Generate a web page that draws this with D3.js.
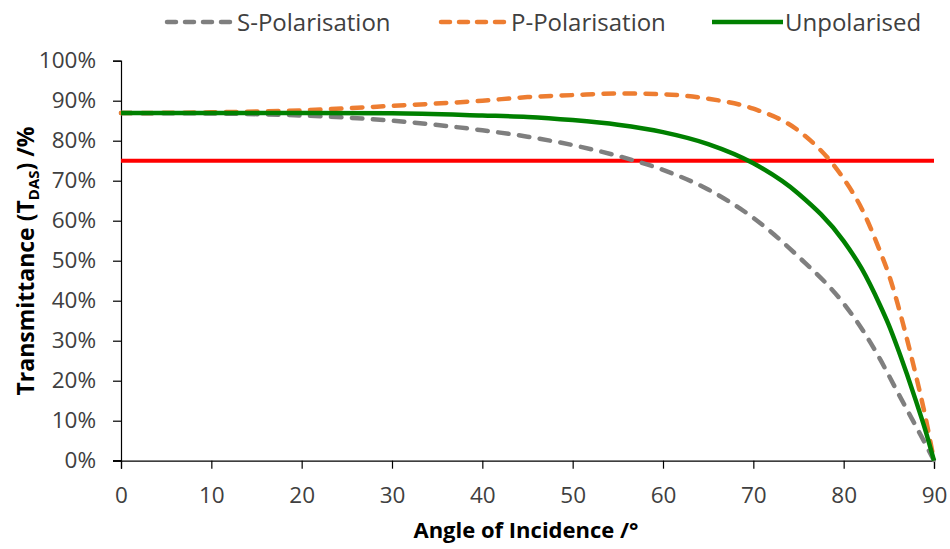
<!DOCTYPE html>
<html><head><meta charset="utf-8">
<script src="https://cdn.jsdelivr.net/npm/d3@7/dist/d3.min.js"></script>
<style>body{margin:0;background:#fff;}svg{display:block;}</style>
</head><body><svg id="c" width="950" height="549"></svg>
<script>
const angles = [0,10,20,30,40,45,50,55,60,65,70,75,80,82,84,85,86,87,88,89,90];
const sPol   = [86.9,86.8,86.3,85.0,82.6,81.0,78.9,76.2,72.7,67.8,60.7,51.0,39.3,33.0,25.5,21.3,17.0,12.8,8.6,4.4,0];
const pPol   = [86.9,87.1,87.6,88.7,90.0,90.9,91.4,91.8,91.6,90.5,88.0,82.5,70.5,63.0,52.5,46.5,39.0,30.5,21.3,11.5,0];
const unPol  = [86.9,86.95,86.95,86.85,86.3,85.95,85.15,84.0,82.15,79.15,74.35,66.75,54.9,48.0,39.0,33.9,28.0,21.65,14.95,7.95,0];
const threshold = 75;
const seriesNames = ["S-Polarisation","P-Polarisation","Unpolarised"];
const xTicks = [0,10,20,30,40,50,60,70,80,90];
const yTicks = [0,10,20,30,40,50,60,70,80,90,100];

const svg = d3.select("#c");
const L=121, R=934, T=60.7, B=460.7;
const x = d3.scaleLinear().domain([0,90]).range([L,R]);
const y = d3.scaleLinear().domain([0,100]).range([B,T]);
const font = "'Open Sans', sans-serif";
const txt = "#404040";

// axes
const yAx = svg.append("g").attr("transform",`translate(${L},0)`)
  .call(d3.axisLeft(y).tickValues(yTicks).tickFormat(d=>d+"%").tickSize(8).tickPadding(17));
const xAx = svg.append("g").attr("transform",`translate(0,${B})`)
  .call(d3.axisBottom(x).tickValues(xTicks).tickSize(8).tickPadding(18));
[yAx,xAx].forEach(a=>{
  a.select(".domain").attr("stroke","#000").attr("stroke-width",1.2);
  a.selectAll(".tick line").attr("stroke","#000").attr("stroke-width",1.2);
  a.selectAll("text").attr("font-family",font).attr("font-size",22.5).attr("fill",txt);
});
svg.append("line").attr("x1",L-8).attr("x2",L).attr("y1",B).attr("y2",B).attr("stroke","#000").attr("stroke-width",1.2);

// threshold line
svg.append("line").attr("x1",x(0)).attr("x2",x(90)).attr("y1",y(threshold)).attr("y2",y(threshold))
  .attr("stroke","#ff0000").attr("stroke-width",4);

const line = d3.line().x(d=>x(d[0])).y(d=>y(d[1])).curve(d3.curveMonotoneX);
const series = [
  {name:seriesNames[0], vals:sPol, color:"#7f7f7f", dash:"10.5,10.5"},
  {name:seriesNames[1], vals:pPol, color:"#ed7d31", dash:"10.5,10.5"},
  {name:seriesNames[2], vals:unPol, color:"#008000", dash:null}
];
series.forEach(s=>{
  svg.append("path").datum(angles.map((a,i)=>[a,s.vals[i]]))
    .attr("d",line).attr("fill","none").attr("stroke",s.color).attr("stroke-width",4.5)
    .attr("stroke-linecap",s.dash?"round":"butt").attr("stroke-dasharray",s.dash);
});

// legend
const legX=[163,437,711];
series.forEach((s,i)=>{
  const g=svg.append("g").attr("transform",`translate(${legX[i]},22)`);
  g.append("line").attr("x1",s.dash?4:1).attr("x2",s.dash?69:72).attr("y1",0).attr("y2",0)
    .attr("stroke",s.color).attr("stroke-width",4.5)
    .attr("stroke-linecap",s.dash?"round":"butt").attr("stroke-dasharray",s.dash?"9,9":null);
  g.append("text").attr("x",74).attr("y",8.5).attr("font-family",font).attr("font-size",24)
    .attr("fill",txt).text(s.name);
});

// axis titles
svg.append("text").attr("x",526).attr("y",538).attr("text-anchor","middle")
  .attr("font-family",font).attr("font-size",22).attr("font-weight","bold").attr("fill","#000")
  .text("Angle of Incidence /°");
const yt = svg.append("text").attr("transform",`translate(34,261) rotate(-90)`)
  .attr("text-anchor","middle").attr("font-family",font).attr("font-size",23).attr("font-weight","bold").attr("fill","#000");
yt.append("tspan").text("Transmittance (T");
yt.append("tspan").attr("font-size",15).attr("dy",5).text("DAS");
yt.append("tspan").attr("dy",-5).text(") /%");
</script></body></html>
